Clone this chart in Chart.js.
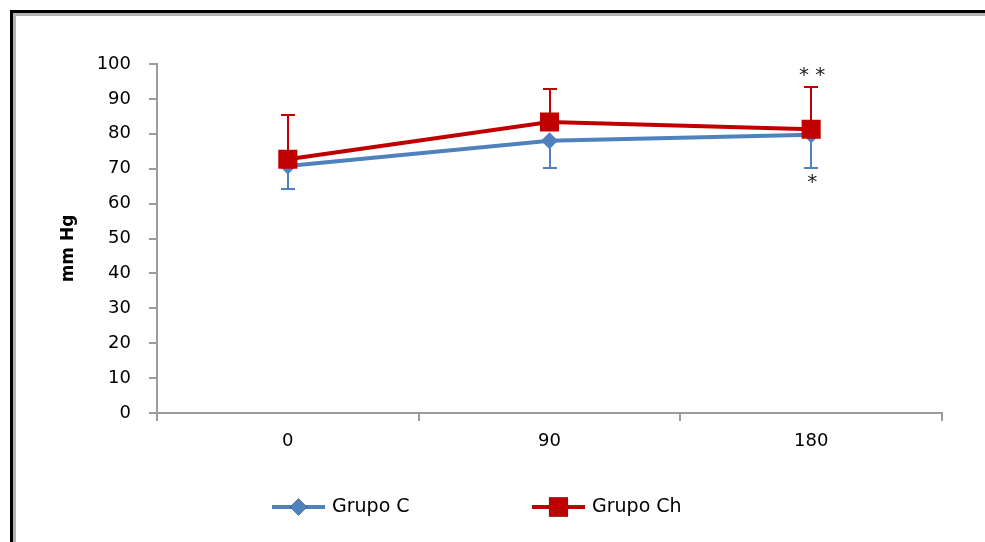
<!DOCTYPE html>
<html><head><meta charset="utf-8">
<script src="https://cdn.jsdelivr.net/npm/chart.js@4/dist/chart.umd.min.js"></script>
<style>
html,body{margin:0;padding:0;background:#fff;}
canvas{display:block;}
</style></head><body>
<canvas id="c" width="985" height="542"></canvas>
<script>
// ---- data ----
const categories = ['0', '90', '180'];
const seriesNames = ['Grupo C', 'Grupo Ch'];
const grupoC = [70.8, 78.0, 79.7];
const grupoCErr = [6.5, 7.7, 9.4];      // drawn downward
const grupoCh = [72.7, 83.4, 81.3];
const grupoChErr = [12.7, 9.4, 12.2];   // drawn upward
const yMin = 0, yMax = 100, yStep = 10;
const axisTitle = 'mm Hg';
const annotations = [
  { series: 1, index: 2, text: '* *' },
  { series: 0, index: 2, text: '*' }
];

const FONT = "'DejaVu Sans', Verdana, sans-serif";
const BLUE = '#4F81BD', RED = '#C00000', AXIS = '#9c9c9c';

const framePlugin = {
  id: 'frame',
  beforeDraw(chart) {
    const { ctx, width, height } = chart;
    ctx.save();
    ctx.fillStyle = '#fff'; ctx.fillRect(0, 0, width, height);
    ctx.fillStyle = '#000';
    ctx.fillRect(10, 10, width - 10, 3);
    ctx.fillRect(10, 10, 3, height - 10);
    ctx.fillStyle = '#b4b4b4';
    ctx.fillRect(13, 13, width - 13, 3);
    ctx.fillRect(13, 13, 3, height - 13);
    ctx.restore();
  }
};

const errorBarPlugin = {
  id: 'errorBars',
  beforeDatasetsDraw(chart) {
    const { ctx, scales: { x, y } } = chart;
    chart.data.datasets.forEach(ds => {
      ds.data.forEach((v, j) => {
        const px = Math.round(x.getPixelForValue(j));
        const py = y.getPixelForValue(v);
        const pe = Math.round(y.getPixelForValue(v + ds.errDir * ds.err[j]));
        ctx.save();
        ctx.strokeStyle = ds.borderColor; ctx.lineWidth = 2;
        ctx.beginPath();
        ctx.moveTo(px, py); ctx.lineTo(px, pe);
        ctx.moveTo(px - 7, pe); ctx.lineTo(px + 7, pe);
        ctx.stroke(); ctx.restore();
      });
    });
  }
};

const annotationPlugin = {
  id: 'annot',
  afterDatasetsDraw(chart) {
    const { ctx, scales: { x, y } } = chart;
    annotations.forEach(a => {
      const ds = chart.data.datasets[a.series];
      const v = ds.data[a.index];
      const px = x.getPixelForValue(a.index);
      const pe = y.getPixelForValue(v + ds.errDir * ds.err[a.index]);
      ctx.save();
      ctx.fillStyle = '#1a1a1a';
      ctx.font = '20px ' + FONT;
      ctx.textAlign = 'center';
      ctx.textBaseline = 'alphabetic';
      const cy = ds.errDir > 0 ? pe - 14 : pe + 12;
      ctx.fillText(a.text, px + 1, cy + 8);
      ctx.restore();
    });
  }
};

const titlePlugin = {
  id: 'ytitle',
  afterDraw(chart) {
    const { ctx, chartArea } = chart;
    ctx.save();
    ctx.translate(69, (chartArea.top + chartArea.bottom) / 2 + 10);
    ctx.rotate(-Math.PI / 2);
    ctx.font = 'bold 17px ' + FONT;
    ctx.fillStyle = '#000';
    ctx.textAlign = 'center';
    ctx.textBaseline = 'middle';
    ctx.fillText(axisTitle, 0, 0);
    ctx.restore();
  }
};

const legendPlugin = {
  id: 'customLegend',
  afterDraw(chart) {
    const { ctx } = chart;
    const starts = [272, 532];
    const ly = 507;
    chart.data.datasets.forEach((ds, i) => {
      const x0 = starts[i];
      ctx.save();
      ctx.strokeStyle = ds.borderColor; ctx.lineWidth = 4;
      ctx.beginPath(); ctx.moveTo(x0, ly); ctx.lineTo(x0 + 53, ly); ctx.stroke();
      Chart.helpers.drawPoint(ctx, { pointStyle: ds.pointStyle, radius: ds.pointRadius, borderWidth: 0 }, x0 + 26.5, ly);
      ctx.fillStyle = ds.backgroundColor;
      ctx.fill();
      ctx.fillStyle = '#000';
      ctx.font = '19px ' + FONT;
      ctx.textAlign = 'left'; ctx.textBaseline = 'middle';
      ctx.fillText(ds.label, x0 + 60, ly);
      ctx.restore();
    });
  }
};

new Chart(document.getElementById('c'), {
  type: 'line',
  data: {
    labels: categories,
    datasets: [
      { label: seriesNames[0], data: grupoC, err: grupoCErr, errDir: -1,
        borderColor: BLUE, backgroundColor: BLUE, borderWidth: 4,
        pointStyle: 'rectRot', pointRadius: 8.5, pointBorderWidth: 0, pointBackgroundColor: BLUE,
        tension: 0, order: 1 },
      { label: seriesNames[1], data: grupoCh, err: grupoChErr, errDir: 1,
        borderColor: RED, backgroundColor: RED, borderWidth: 4,
        pointStyle: 'rect', pointRadius: 13.5, pointBorderWidth: 0, pointBackgroundColor: RED,
        tension: 0, order: 0 }
    ]
  },
  options: {
    responsive: false, animation: false, devicePixelRatio: 1,
    layout: { padding: { left: 0, top: 64, right: 43, bottom: 79 } },
    plugins: { legend: { display: false }, tooltip: { enabled: false } },
    scales: {
      x: {
        type: 'category', offset: true,
        grid: { offset: true, drawOnChartArea: false, drawTicks: true, tickLength: 8, color: AXIS, lineWidth: 2 },
        border: { color: AXIS, width: 2 },
        ticks: { font: { family: FONT, size: 18 }, color: '#000', padding: 10 },
        afterFit(s) { s.height = 50; }
      },
      y: {
        min: yMin, max: yMax,
        grid: { drawOnChartArea: false, drawTicks: true, tickLength: 8, color: AXIS, lineWidth: 2 },
        border: { color: AXIS, width: 2 },
        ticks: { stepSize: yStep, font: { family: FONT, size: 18 }, color: '#000', padding: 18 },
        afterFit(s) { s.width = 157; }
      }
    }
  },
  plugins: [framePlugin, errorBarPlugin, annotationPlugin, titlePlugin, legendPlugin]
});
</script>
</body></html>
